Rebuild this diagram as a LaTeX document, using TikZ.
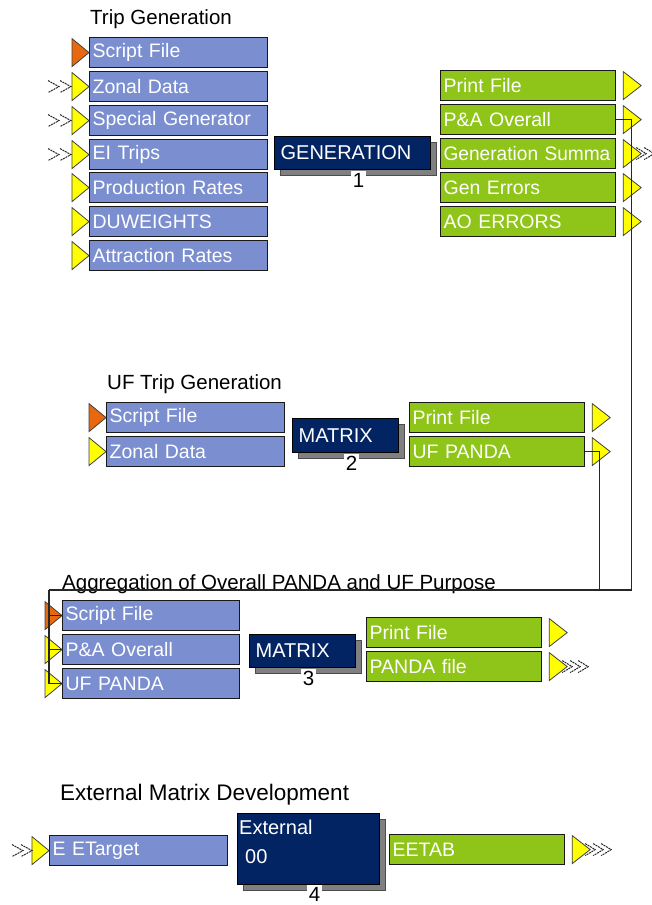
\documentclass[tikz,border=0pt]{standalone}
\usepackage{fontspec}
\setmainfont{Liberation Sans}
\usetikzlibrary{calc,shadows}
\definecolor{inblue}{RGB}{122,142,208}
\definecolor{outgreen}{RGB}{143,196,24}
\definecolor{navyc}{RGB}{2,36,98}
\definecolor{triyel}{RGB}{255,255,0}
\definecolor{triora}{RGB}{232,104,16}
\definecolor{shadc}{RGB}{128,128,128}
\newcommand\boxfont{\fontsize{19.5}{20}\selectfont}
\newcommand\ttlfont{\fontsize{20.5}{22}\selectfont}
\newcommand\intri[2]{\filldraw[tri, fill=#2] ($(#1.west)+(-17,-14)$) -- (#1.west) -- ($(#1.west)+(-17,14)$) -- cycle;}
\newcommand\outtri[1]{\filldraw[tri, fill=triyel] ($(#1.east)+(7,-14)$) -- ($(#1.east)+(25,0)$) -- ($(#1.east)+(7,14)$) -- cycle;}
\newcommand\inchev[3]{\foreach \k in {0,1}{\draw[chev] ($(#1.west)+({#2+#3*\k},-6)$) -- ++(11,6) -- ++(-11,6);}}
\newcommand\outchev[1]{\foreach \k in {0,1,2}{\draw[chev] ($(#1.east)+({20+8*\k},-6)$) -- ++(10,6) -- ++(-10,6);}}
\begin{document}
\begin{tikzpicture}[x=1pt,y=-1pt,
  box/.style={draw=black!90, line width=1.2pt, text=white, font=\boxfont, inner ysep=0pt, minimum height=30pt, anchor=north west, align=left},
  inbox/.style={box, fill=inblue, inner xsep=3pt, text width=172pt},
  outbox/.style={box, fill=outgreen, inner xsep=3pt, text width=169pt},
  procbox/.style={draw=black, line width=1.2pt, fill=navyc, text=white, font=\fontsize{20}{22}\selectfont, inner xsep=6pt, inner ysep=0pt, anchor=north west, align=left, general shadow={shadow xshift=6pt, shadow yshift=-6pt, fill=shadc, draw=black!70, line width=1pt}},
  proctext/.style={text=white, font=\fontsize{20}{22}\selectfont, inner sep=0pt},
  numlbl/.style={fill=white, font=\fontsize{20.5}{21}\selectfont, inner xsep=1.5pt, inner ysep=1.5pt, anchor=north},
  ttl/.style={font=\ttlfont, inner sep=0pt, anchor=base west},
  tri/.style={draw=black!75, line width=0.8pt},
  chev/.style={draw=black!85, line width=1pt, dash pattern=on 2pt off 0.8pt},
  wire/.style={draw=black!85, line width=1.2pt}
]
\useasboundingbox (0,0) rectangle (652,905);

% ---------- Trip Generation ----------
\node[ttl] (t1) at (90,24) {Trip Generation};
\node[inbox] (g1i1) at (89,37) {Script File};
\node[inbox] (g1i2) at (89,71) {Zonal Data};
\node[inbox] (g1i3) at (89,105) {Special Generator};
\node[inbox] (g1i4) at (89,139) {EI Trips};
\node[inbox] (g1i5) at (89,172) {Production Rates};
\node[inbox] (g1i6) at (89,206) {DUWEIGHTS};
\node[inbox] (g1i7) at (89,240) {Attraction Rates};
\intri{g1i1}{triora}
\intri{g1i2}{triyel}
\intri{g1i3}{triyel}
\intri{g1i4}{triyel}
\intri{g1i5}{triyel}
\intri{g1i6}{triyel}
\intri{g1i7}{triyel}
\inchev{g1i2}{-41}{12}
\inchev{g1i3}{-41}{12}
\inchev{g1i4}{-41}{12}

\node[procbox, minimum height=33pt, text width=144pt] (gen) at (274,136) {GENERATION};
\node[numlbl] (l1) at ($(gen.south)+(6,1)$) {1};

\node[outbox] (g1o1) at (440,70) {Print File};
\node[outbox] (g1o2) at (440,104) {P\&A Overall};
\node[outbox] (g1o3) at (440,138) {\makebox[\linewidth][l]{\scalebox{0.98}[1]{Generation Summa}}};
\node[outbox] (g1o4) at (440,172) {Gen Errors};
\node[outbox] (g1o5) at (440,206) {AO ERRORS};
\outtri{g1o1}
\outtri{g1o2}
\outtri{g1o3}
\outtri{g1o4}
\outtri{g1o5}
\outchev{g1o3}

% ---------- UF Trip Generation ----------
\node[ttl] (t2) at (107,389) {UF Trip Generation};
\node[inbox] (g2i1) at (106,402) {Script File};
\node[inbox] (g2i2) at (106,436) {Zonal Data};
\intri{g2i1}{triora}
\intri{g2i2}{triyel}
\node[procbox, minimum height=34pt, text width=94pt] (m2) at (292,418) {MATRIX};
\node[numlbl] (l2) at ($(m2.south)+(6,1)$) {2};
\node[outbox] (g2o1) at (409,402) {Print File};
\node[outbox] (g2o2) at (409,436) {UF PANDA};
\outtri{g2o1}
\outtri{g2o2}

% ---------- Aggregation ----------
\node[ttl] (t3) at (62,589) {Aggregation of Overall PANDA and UF Purpose};
\node[inbox, text width=171pt] (g3i1) at (62,600) {Script File};
\node[inbox, text width=171pt] (g3i2) at (62,634) {P\&A Overall};
\node[inbox, text width=171pt] (g3i3) at (62,668) {UF PANDA};
\intri{g3i1}{triora}
\intri{g3i2}{triyel}
\intri{g3i3}{triyel}
\node[procbox, minimum height=33pt, text width=94pt] (m3) at (249,634) {MATRIX};
\node[numlbl] (l3) at ($(m3.south)+(6,1)$) {3};
\node[outbox] (g3o1) at (366,617) {Print File};
\node[outbox] (g3o2) at (366,651) {PANDA file};
\outtri{g3o1}
\outtri{g3o2}
\outchev{g3o2}

% ---------- External Matrix Development ----------
\node[ttl, font=\fontsize{22.5}{24}\selectfont] (t4) at (60,800) {External Matrix Development};
\node[inbox] (ee) at (49,835) {E ETarget};
\intri{ee}{triyel}
\inchev{ee}{-37}{9}
\node[procbox, minimum height=71pt, text width=130pt] (ext) at (237,813) {};
\node[proctext, anchor=west] (extT) at (239,827) {External};
\node[proctext, anchor=west] (extN) at (245,857) {00};
\node[numlbl] (l4) at ($(ext.south)+(6,0)$) {4};
\node[outbox] (eetab) at (389,834) {EETAB};
\outtri{eetab}
\outchev{eetab}

% ---------- connectors ----------
\coordinate (bus) at (49,590);
\draw[wire] (g1o2.east) -- ++(15,0) |- (bus);
\draw[wire] (g2o2.east) -- ++(14,0) |- (bus);
\draw[wire] (bus) |- (g3i3.west);
\draw[wire] (bus |- g3i1.west) -- (g3i1.west);
\draw[wire] (bus |- g3i2.west) -- (g3i2.west);
\end{tikzpicture}
\end{document}
